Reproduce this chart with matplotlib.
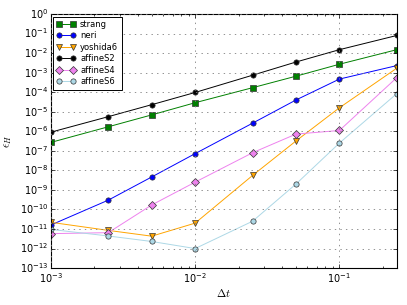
import matplotlib
matplotlib.use("Agg")
import matplotlib.pyplot as plt

plt.style.use('classic')

dt = [0.001, 0.0025, 0.005, 0.01, 0.025, 0.05, 0.1, 0.25]
strang = [2.7e-7, 1.7e-6, 6.9e-6, 2.9e-5, 1.7e-4, 6.6e-4, 2.7e-3, 1.5e-2]
neri = [1.6e-11, 3.0e-10, 4.6e-9, 7.2e-8, 2.6e-6, 4.0e-5, 4.7e-4, 2.3e-3]
yoshida6 = [2.2e-11, 8.5e-12, 4.3e-12, 2.0e-11, 5.5e-9, 3.2e-7, 1.6e-5, 1.7e-3]
affineS2 = [9.0e-7, 5.6e-6, 2.3e-5, 9.7e-5, 7.4e-4, 3.5e-3, 1.5e-2, 8.0e-2]
affineS4 = [5.8e-12, 6.5e-12, 1.7e-10, 2.5e-9, 8.0e-8, 7.2e-7, 1.1e-6, 5.6e-4]
affineS6 = [9.5e-12, 4.4e-12, 2.3e-12, 1.0e-12, 2.5e-11, 2.0e-9, 2.5e-7, 8.5e-5]

series = [
    ("strang", strang, "green", "s"),
    ("neri", neri, "blue", "o"),
    ("yoshida6", yoshida6, "orange", "v"),
    ("affineS2", affineS2, "black", "o"),
    ("affineS4", affineS4, "violet", "D"),
    ("affineS6", affineS6, "lightblue", "o"),
]

fig = plt.figure(figsize=(4.07, 3.05), dpi=100, facecolor="white")
ax = fig.add_axes([0.125, 0.121, 0.85, 0.833])
ax.set_facecolor("white")

for name, vals, col, mk in series:
    ax.loglog(dt, vals, color=col, marker=mk, markersize=3.8, markeredgecolor="#333333",
              markeredgewidth=0.5, linewidth=0.7, label=name)

ax.set_xlim(1e-3, 0.25)
ax.set_ylim(1e-13, 1e0)
ax.grid(True, which="major", linestyle=":", color="gray", linewidth=0.6)
ax.tick_params(labelsize=7, pad=2, width=0.5)
ax.tick_params(which="major", length=3)
ax.tick_params(which="minor", length=1.5, width=0.5)
for sp in ax.spines.values():
    sp.set_linewidth(0.8)
ax.set_xlabel(r"$\Delta t$", fontsize=8, labelpad=2)
ax.set_ylabel(r"$\epsilon_H$", fontsize=8, labelpad=4)
leg = ax.legend(loc="upper left", fontsize=6, numpoints=2, handlelength=2.2,
                borderpad=0.4, labelspacing=0.3, handletextpad=0.6,
                borderaxespad=0.3)
leg.get_frame().set_linewidth(0.7)

fig.savefig("out.png", dpi=100, facecolor="white")
